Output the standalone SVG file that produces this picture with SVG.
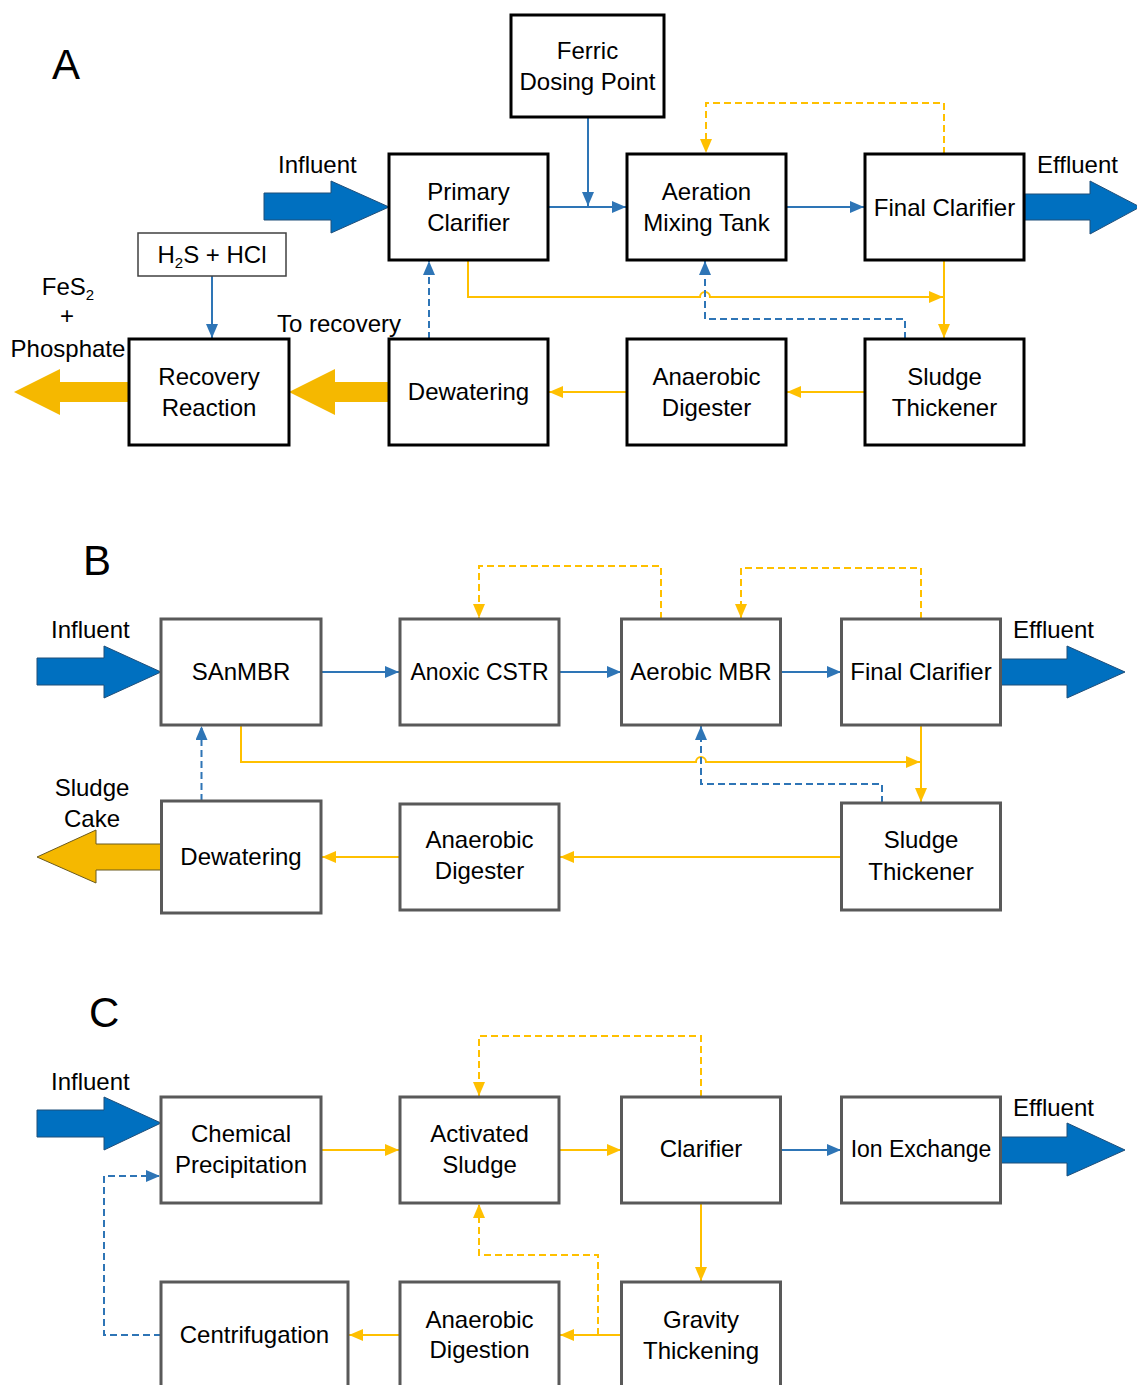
<svg xmlns="http://www.w3.org/2000/svg" width="1137" height="1385" viewBox="0 0 1137 1385">
<defs>
<style>
text{font-family:"Liberation Sans",Arial,sans-serif;font-size:24px;fill:#000}
.c{text-anchor:middle}
.big{font-size:42px}
.boxA{fill:#fff;stroke:#000;stroke-width:3}
.boxB{fill:#fff;stroke:#595959;stroke-width:3}
.thin{fill:#fff;stroke:#404040;stroke-width:1.5}
.bl{fill:none;stroke:#2E75B6;stroke-width:2}
.yl{fill:none;stroke:#FFC000;stroke-width:2}
.dash{stroke-dasharray:7 4}
.ba{fill:#0070C0;stroke:#1F4E79;stroke-width:1}
.yaA{fill:#F5B800;stroke:none}
.yaB{fill:#F5B800;stroke:#6B5A1E;stroke-width:1}
</style>
<marker id="mb" viewBox="0 0 14 12" markerUnits="userSpaceOnUse" markerWidth="14" markerHeight="12" refX="14" refY="6" orient="auto"><path d="M0,0 L14,6 L0,12 z" fill="#2E75B6"/></marker>
<marker id="my" viewBox="0 0 14 12" markerUnits="userSpaceOnUse" markerWidth="14" markerHeight="12" refX="14" refY="6" orient="auto"><path d="M0,0 L14,6 L0,12 z" fill="#FFC000"/></marker>
</defs>
<rect width="1137" height="1385" fill="#fff"/>

<!-- Panel labels and free texts -->
<g id="labels">
<text class="big" x="52" y="79">A</text>
<text class="big" x="83" y="575">B</text>
<text class="big" x="89" y="1027">C</text>
<text x="278" y="173">Influent</text>
<text x="1037" y="173">Effluent</text>
<text class="c" x="68" y="295">FeS<tspan font-size="15" dy="5">2</tspan></text>
<text class="c" x="67" y="324">+</text>
<text class="c" x="68" y="357">Phosphate</text>
<text x="277" y="332">To recovery</text>
<text x="51" y="638">Influent</text>
<text x="1013" y="638">Effluent</text>
<text class="c" x="92" y="796">Sludge</text>
<text class="c" x="92" y="827">Cake</text>
<text x="51" y="1090">Influent</text>
<text x="1013" y="1116">Effluent</text>
</g>

<!-- Connectors -->
<g id="connectors">
<!-- A -->
<line class="bl" x1="588" y1="117" x2="588" y2="206" marker-end="url(#mb)"/>
<line class="bl" x1="548" y1="207" x2="626" y2="207" marker-end="url(#mb)"/>
<line class="bl" x1="786" y1="207" x2="864" y2="207" marker-end="url(#mb)"/>
<path class="yl dash" d="M944,154 V103 H706 V153" marker-end="url(#my)"/>
<path class="yl" d="M944,260 V338" marker-end="url(#my)"/>
<path class="yl" d="M468,260 V297 H700 a5,5 0 0 1 10,0 H943" marker-end="url(#my)"/>
<path class="bl dash" d="M905,339 V319 H705 V261" marker-end="url(#mb)"/>
<path class="bl dash" d="M429,339 V261" marker-end="url(#mb)"/>
<path class="bl" d="M212,276 V338" marker-end="url(#mb)"/>
<path class="yl" d="M865,392 H787" marker-end="url(#my)"/>
<path class="yl" d="M627,392 H549" marker-end="url(#my)"/>
<polygon class="ba" points="264,193 331,193 331,181 389,207 331,233 331,220 264,220"/>
<polygon class="ba" points="1025,194 1090,194 1090,181 1140,207 1090,234 1090,220 1025,220"/>
<polygon class="yaA" points="389,382 335,382 335,369 289,392 335,415 335,402 389,402"/>
<polygon class="yaA" points="129,382 60,382 60,369 14,392 60,415 60,402 129,402"/>
<!-- B -->
<path class="bl" d="M321,672 H399" marker-end="url(#mb)"/>
<path class="bl" d="M559,672 H621" marker-end="url(#mb)"/>
<path class="bl" d="M780,672 H841" marker-end="url(#mb)"/>
<path class="yl dash" d="M661,619 V566 H479 V618" marker-end="url(#my)"/>
<path class="yl dash" d="M921,619 V568 H741 V618" marker-end="url(#my)"/>
<path class="yl" d="M241,725 V762 H696 a5,5 0 0 1 10,0 H920" marker-end="url(#my)"/>
<path class="yl" d="M921,725 V802" marker-end="url(#my)"/>
<path class="bl dash" d="M882,803 V784 H701 V726" marker-end="url(#mb)"/>
<path class="bl dash" d="M201.5,801 V726" marker-end="url(#mb)"/>
<path class="yl" d="M841,857 H560" marker-end="url(#my)"/>
<path class="yl" d="M400,857 H322" marker-end="url(#my)"/>
<polygon class="ba" points="37,658 104,658 104,646 161,672 104,698 104,685 37,685"/>
<polygon class="ba" points="1001,659 1067,659 1067,646 1125,672 1067,698 1067,685 1001,685"/>
<polygon class="yaB" points="161,844 96,844 96,830 37,857 96,883 96,870 161,870"/>
<!-- C -->
<path class="yl" d="M321,1150 H399" marker-end="url(#my)"/>
<path class="yl" d="M559,1150 H621" marker-end="url(#my)"/>
<path class="bl" d="M780,1150 H841" marker-end="url(#mb)"/>
<path class="yl" d="M701,1203 V1281" marker-end="url(#my)"/>
<path class="yl dash" d="M701,1097 V1036 H479 V1096" marker-end="url(#my)"/>
<path class="yl dash" d="M598,1335 V1255 H479 V1204" marker-end="url(#my)"/>
<path class="yl" d="M621,1335 H560" marker-end="url(#my)"/>
<path class="yl" d="M400,1335 H349" marker-end="url(#my)"/>
<path class="bl dash" d="M161,1335 H104 V1176 H160" marker-end="url(#mb)"/>
<polygon class="ba" points="37,1110 104,1110 104,1097 161,1123 104,1150 104,1137 37,1137"/>
<polygon class="ba" points="1001,1137 1067,1137 1067,1123 1125,1150 1067,1176 1067,1163 1001,1163"/>
</g>

<!-- Panel A nodes -->
<g id="ferric"><rect class="boxA" x="511" y="15" width="153" height="102"/><text class="c" x="587.5" y="59">Ferric</text><text class="c" x="587.5" y="90">Dosing Point</text></g>
<g id="primary"><rect class="boxA" x="389" y="154" width="159" height="106"/><text class="c" x="468.5" y="200">Primary</text><text class="c" x="468.5" y="231">Clarifier</text></g>
<g id="aeration"><rect class="boxA" x="627" y="154" width="159" height="106"/><text class="c" x="706.5" y="200">Aeration</text><text class="c" x="706.5" y="231">Mixing Tank</text></g>
<g id="finalA"><rect class="boxA" x="865" y="154" width="159" height="106"/><text class="c" x="944.5" y="216">Final Clarifier</text></g>
<g id="h2s"><rect class="thin" x="138" y="233" width="148" height="43"/><text class="c" x="212" y="263">H<tspan font-size="15" dy="5">2</tspan><tspan dy="-5">S + HCl</tspan></text></g>
<g id="recovery"><rect class="boxA" x="129" y="339" width="160" height="106"/><text class="c" x="209" y="385">Recovery</text><text class="c" x="209" y="416">Reaction</text></g>
<g id="dewA"><rect class="boxA" x="389" y="339" width="159" height="106"/><text class="c" x="468.5" y="400">Dewatering</text></g>
<g id="adA"><rect class="boxA" x="627" y="339" width="159" height="106"/><text class="c" x="706.5" y="385">Anaerobic</text><text class="c" x="706.5" y="416">Digester</text></g>
<g id="stA"><rect class="boxA" x="865" y="339" width="159" height="106"/><text class="c" x="944.5" y="385">Sludge</text><text class="c" x="944.5" y="416">Thickener</text></g>

<!-- Panel B nodes -->
<g id="sanmbr"><rect class="boxB" x="161" y="619" width="160" height="106"/><text class="c" x="241" y="680">SAnMBR</text></g>
<g id="anoxic"><rect class="boxB" x="400" y="619" width="159" height="106"/><text class="c" x="479.5" y="680" style="font-size:23px">Anoxic CSTR</text></g>
<g id="aerobic"><rect class="boxB" x="621.5" y="619" width="159" height="106"/><text class="c" x="701" y="680">Aerobic MBR</text></g>
<g id="finalB"><rect class="boxB" x="841.5" y="619" width="159" height="106"/><text class="c" x="921" y="680">Final Clarifier</text></g>
<g id="dewB"><rect class="boxB" x="161.5" y="801" width="159.5" height="112"/><text class="c" x="241" y="865">Dewatering</text></g>
<g id="adB"><rect class="boxB" x="400" y="804" width="159" height="106"/><text class="c" x="479.5" y="848">Anaerobic</text><text class="c" x="479.5" y="879">Digester</text></g>
<g id="stB"><rect class="boxB" x="841.5" y="803" width="159" height="107"/><text class="c" x="921" y="848">Sludge</text><text class="c" x="921" y="880">Thickener</text></g>

<!-- Panel C nodes -->
<g id="chem"><rect class="boxB" x="161" y="1097" width="160" height="106"/><text class="c" x="241" y="1142">Chemical</text><text class="c" x="241" y="1173">Precipitation</text></g>
<g id="activated"><rect class="boxB" x="400" y="1097" width="159" height="106"/><text class="c" x="479.5" y="1142">Activated</text><text class="c" x="479.5" y="1173">Sludge</text></g>
<g id="clarC"><rect class="boxB" x="621.5" y="1097" width="159" height="106"/><text class="c" x="701" y="1157">Clarifier</text></g>
<g id="ionex"><rect class="boxB" x="841.5" y="1097" width="159" height="106"/><text class="c" x="921" y="1157" style="font-size:23px">Ion Exchange</text></g>
<g id="centri"><rect class="boxB" x="161" y="1282" width="187" height="112"/><text class="c" x="254.5" y="1343">Centrifugation</text></g>
<g id="adC"><rect class="boxB" x="400" y="1282" width="159" height="112"/><text class="c" x="479.5" y="1328">Anaerobic</text><text class="c" x="479.5" y="1358">Digestion</text></g>
<g id="gravity"><rect class="boxB" x="621.5" y="1282" width="159" height="112"/><text class="c" x="701" y="1328">Gravity</text><text class="c" x="701" y="1359">Thickening</text></g>
</svg>
